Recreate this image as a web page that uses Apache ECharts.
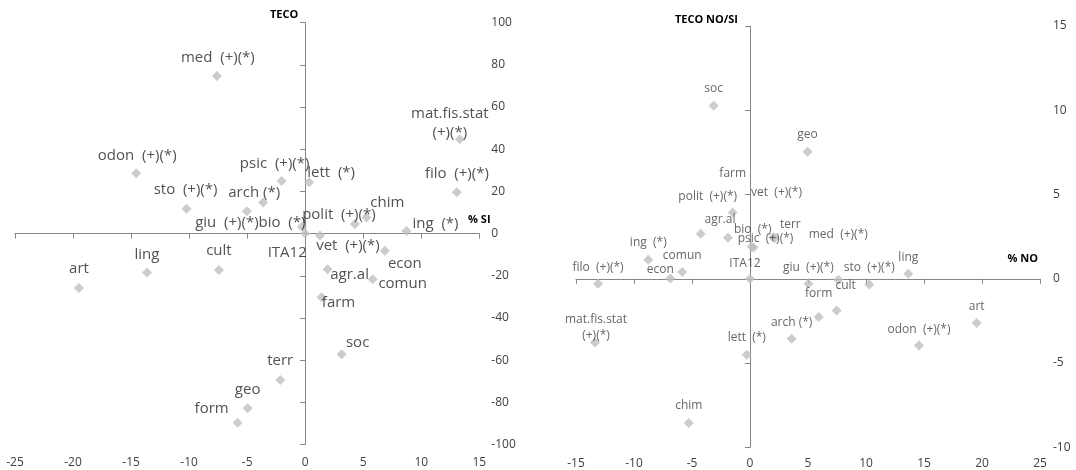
<!DOCTYPE html>
<html><head><meta charset="utf-8">
<script src="https://cdn.jsdelivr.net/npm/echarts@6/dist/echarts.min.js"></script>
<style>html,body{margin:0;padding:0;background:#fff}#c{width:1076px;height:470px}</style>
</head><body><div id="c"></div>
<script>
// ---- data ----
const names = ['med','odon','sto','arch','giu','psic','lett','mat.fis.stat','filo','bio','ITA12','polit','chim','ing','vet','econ','agr.al','comun','farm','soc','terr','geo','form','cult','ling','art'];
const labelTexts = ['med  (+)(*)','odon  (+)(*)','sto  (+)(*)','arch (*)','giu  (+)(*)','psic  (+)(*)','lett  (*)','mat.fis.stat\n(+)(*)','filo  (+)(*)','bio  (*)','ITA12','polit  (+)(*)','chim','ing  (*)','vet  (+)(*)','econ','agr.al','comun','farm','soc','terr','geo','form','cult','ling','art'];
// left chart: % SI (x) vs TECO (y)
const siX = [-7.61,-14.56,-10.22,-3.62,-5.02,-2.03,0.34,13.32,13.07,-0.28,0,4.28,5.27,8.73,1.27,6.86,1.93,5.81,1.41,3.14,-2.15,-4.96,-5.82,-7.43,-13.63,-19.49];
const siY = [74.7,28.6,11.8,14.7,10.6,24.9,24.3,44.7,19.6,3.3,0,4.5,7.6,1.2,-0.9,-8.1,-16.9,-21.7,-30.2,-57.2,-69.4,-82.8,-89.7,-17.3,-18.4,-25.8];
// right chart: % NO (x) vs TECO NO/SI (y)
const noX = [7.61,14.57,10.28,3.59,5.03,0.3,-0.28,-13.36,-13.10,0.15,0,-4.25,-5.28,-8.77,2.03,-6.87,-1.90,-5.84,-1.49,-3.13,2.1,4.96,5.92,7.47,13.65,19.54];
const noY = [-0.06,-3.96,-0.34,-3.56,-0.30,1.85,-4.51,-3.78,-0.30,1.90,0,2.67,-8.56,1.13,2.46,0.02,2.43,0.40,3.93,10.27,2.4,7.54,-2.27,-1.88,0.30,-2.63];
const leftXRange = {min:-25, max:15, interval:5};
const leftYRange = {min:-100, max:100, interval:20};
const rightXRange = {min:-15, max:25, interval:5};
const rightYRange = {min:-10, max:15, interval:5};

// ---- label layout (offsets from marker centre, px) ----
const leftOff = {med:[1,-18],odon:[1,-18],sto:[-1,-19],arch:[-9,-10],giu:[-20,11],bio:[-20,-4],psic:[-7,-17],lett:[22,-10],'mat.fis.stat':[-10,-16],filo:[0,-19],polit:[-16,-9],chim:[21,-15],ing:[29,-7],vet:[28,10],ITA12:[-18,19],econ:[20,13],'agr.al':[22,5],comun:[30,4],farm:[17,5],soc:[16,-12],terr:[0,-19],geo:[0,-18],form:[-26,-14],cult:[0,-19],ling:[0,-18],art:[0,-19]};
const rightOff = {soc:[0,-17],geo:[0,-17],farm:[0,-39],polit:[7,-37],'agr.al':[-8,-18],bio:[1,-17],psic:[12,-9],vet:[3,-45],terr:[16,-14],med:[0,-45],ing:[0,-17],comun:[0,-16],econ:[-10,-9],filo:[0,-16],ITA12:[-5,-15],'mat.fis.stat':[1,-15],lett:[0,-17],chim:[0,-17],arch:[0,-16],giu:[0,-16],sto:[0,-17],cult:[9,-25],form:[0,-23],ling:[0,-16],art:[0,-17],odon:[0,-16]};

const FONT = 'Open Sans';
const axisColor = '#868686';
const tickLabelColor = '#404040';

function buildData(xs, ys, offs) {
  return names.map((n, i) => ({
    name: n,
    value: [xs[i], ys[i]],
    label: { formatter: labelTexts[i], offset: offs[n] || [0, -17] }
  }));
}

function labelXAxis(grid, r, margin) {
  return { gridIndex: grid, type: 'value', min: r.min, max: r.max, interval: r.interval, position: 'bottom',
    axisLine: { show: false, onZero: false }, axisTick: { show: false }, splitLine: { show: false },
    axisLabel: { margin: margin, color: tickLabelColor, fontSize: 12, fontFamily: FONT } };
}
function lineXAxis(grid, r, onZeroIdx, name, nameStyle) {
  return { gridIndex: grid, type: 'value', min: r.min, max: r.max, interval: r.interval, position: 'bottom',
    axisLine: { show: true, onZero: true, onZeroAxisIndex: onZeroIdx, lineStyle: { color: axisColor, width: 1 } },
    axisTick: { show: true, length: 5, lineStyle: { color: axisColor } },
    axisLabel: { show: false }, splitLine: { show: false },
    name: name, nameLocation: 'end', nameGap: 0,
    nameTextStyle: Object.assign({ fontWeight: 'bold', fontSize: 11, fontFamily: FONT, color: '#000' }, nameStyle) };
}
function labelYAxis(grid, r, margin) {
  return { gridIndex: grid, type: 'value', min: r.min, max: r.max, interval: r.interval, position: 'right',
    axisLine: { show: false, onZero: false }, axisTick: { show: false }, splitLine: { show: false },
    axisLabel: { margin: margin, color: tickLabelColor, fontSize: 12, fontFamily: FONT, align: 'left' } };
}
function lineYAxis(grid, r, onZeroIdx, name, nameGap, nameStyle) {
  return { gridIndex: grid, type: 'value', min: r.min, max: r.max, interval: r.interval, position: 'left',
    axisLine: { show: true, onZero: true, onZeroAxisIndex: onZeroIdx, lineStyle: { color: axisColor, width: 1 } },
    axisTick: { show: true, length: 5, lineStyle: { color: axisColor } },
    axisLabel: { show: false }, splitLine: { show: false },
    name: name, nameLocation: 'end', nameGap: nameGap,
    nameTextStyle: Object.assign({ fontWeight: 'bold', fontSize: 11, fontFamily: FONT, color: '#000' }, nameStyle) };
}

const chart = echarts.init(document.getElementById('c'), null, { renderer: 'canvas' });
chart.setOption({
  animation: false,
  backgroundColor: '#fff',
  grid: [
    { left: 15, right: 596.7, top: 22.7, bottom: 25.5 },
    { left: 576, right: 36, top: 26, bottom: 22.7 }
  ],
  xAxis: [
    labelXAxis(0, leftXRange, 12),
    lineXAxis(0, leftXRange, 1, '% SI', { align: 'center', verticalAlign: 'bottom', padding: [0, 0, 8, 0] }),
    labelXAxis(1, rightXRange, 10),
    lineXAxis(1, rightXRange, 3, '% NO', { align: 'right', verticalAlign: 'bottom', padding: [0, 2, 14, 0] })
  ],
  yAxis: [
    labelYAxis(0, leftYRange, 12),
    lineYAxis(0, leftYRange, 1, 'TECO', 2, { align: 'right', verticalAlign: 'bottom', padding: [0, 7, 0, 0] }),
    labelYAxis(1, rightYRange, 13),
    lineYAxis(1, rightYRange, 3, 'TECO NO/SI', 1, { align: 'right', verticalAlign: 'bottom', padding: [0, 12, 0, 0] })
  ],
  series: [
    { type: 'scatter', xAxisIndex: 0, yAxisIndex: 0, symbol: 'diamond', symbolSize: 10,
      itemStyle: { color: '#bfbfbf' },
      label: { show: true, position: 'inside', color: '#262626', fontSize: 15, fontFamily: FONT, lineHeight: 19, align: 'center' },
      emphasis: { disabled: true },
      data: buildData(siX, siY, leftOff) },
    { type: 'scatter', xAxisIndex: 2, yAxisIndex: 2, symbol: 'diamond', symbolSize: 10,
      itemStyle: { color: '#bfbfbf' },
      label: { show: true, position: 'inside', color: '#404040', fontSize: 12, fontFamily: FONT, lineHeight: 16, align: 'center' },
      emphasis: { disabled: true },
      data: buildData(noX, noY, rightOff) }
  ]
});
</script>
</body></html>
